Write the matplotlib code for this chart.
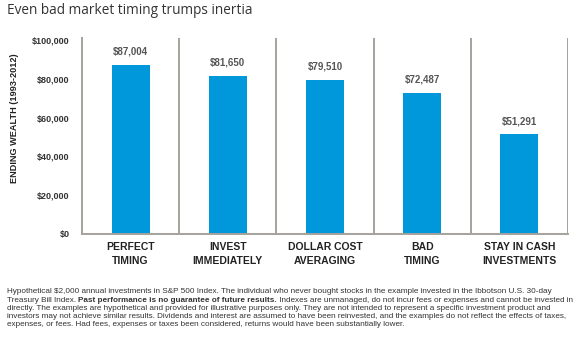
import matplotlib
matplotlib.use("Agg")
import matplotlib.pyplot as plt
import numpy as np

categories = ["PERFECT\nTIMING", "INVEST\nIMMEDIATELY", "DOLLAR COST\nAVERAGING",
              "BAD\nTIMING", "STAY IN CASH\nINVESTMENTS"]
values = [87004, 81650, 79510, 72487, 51291]
yticks = [0, 20000, 40000, 60000, 80000, 100000]
title = "Even bad market timing trumps inertia"
ylabel = "ENDING WEALTH (1993-2012)"

plt.rcParams['font.family'] = ['Liberation Sans', 'DejaVu Sans']

fig = plt.figure(figsize=(5.79, 3.37), dpi=100)
ax = fig.add_axes([82/579, 1 - 234/337, (568-82)/579, (234-38)/337])

x = np.arange(len(categories))
bar_color = '#0097DB'
ax.bar(x, values, width=0.39, color=bar_color, zorder=2)
ax.set_xlim(-0.5, len(categories) - 0.5)
ax.set_ylim(0, 101000)

gray = '#A5A19D'
for xs in x + 0.5:
    ax.axvline(xs, color=gray, lw=1.4, zorder=1)

for s in ['top', 'right']:
    ax.spines[s].set_visible(False)
for s in ['left', 'bottom']:
    ax.spines[s].set_color(gray)
    ax.spines[s].set_linewidth(1.4)

ax.set_yticks(yticks)
ax.set_yticklabels(["$" + format(v, ",") for v in yticks],
                   fontsize=6.5, fontweight='bold', color='#333333')
ax.tick_params(axis='y', length=0, pad=9)
ax.set_xticks(x)
ax.set_xticklabels(categories, fontsize=7.5, fontweight='bold', color='#222222',
                   linespacing=1.4)
ax.tick_params(axis='x', length=0, pad=6)

for xi, v in zip(x, values):
    ax.annotate("$" + format(v, ","), (xi, v), xytext=(0, 6), textcoords='offset points',
                ha='center', va='bottom', fontsize=7, fontweight='bold', color='#555555')

fig.text(15/579, 1 - 118/337, ylabel, rotation=90, ha='center', va='center',
         fontsize=6.6, fontweight='bold', color='#222222')

fig.text(7/579, 1 - 11/337, title, ha='left', va='center', fontsize=9.8,
         color='#333333', family=['Open Sans', 'DejaVu Sans'])

fn_size = 5.84
fn_color = '#333333'
lines = [
    "Hypothetical $2,000 annual investments in S&P 500 Index. The individual who never bought stocks in the example invested in the Ibbotson U.S. 30-day",
    None,
    "directly. The examples are hypothetical and provided for illustrative purposes only. They are not intended to represent a specific investment product and",
    "investors may not achieve similar results. Dividends and interest are assumed to have been reinvested, and the examples do not reflect the effects of taxes,",
    "expenses, or fees. Had fees, expenses or taxes been considered, returns would have been substantially lower.",
]
ys = [291.5, 300, 308.3, 316.7, 325]
for line, yy in zip(lines, ys):
    if line is not None:
        fig.text(7/579, 1 - yy/337, line, ha='left', va='center', fontsize=fn_size,
                 color=fn_color)
    else:
        t1 = fig.text(7/579, 1 - yy/337, "Treasury Bill Index. ", ha='left', va='center',
                      fontsize=fn_size, color=fn_color)
        a2 = plt.annotate("Past performance is no guarantee of future results.", xy=(1, 0),
                          xycoords=t1, ha='left', va='bottom', fontsize=fn_size,
                          color=fn_color, fontweight='bold', annotation_clip=False)
        plt.annotate(" Indexes are unmanaged, do not incur fees or expenses and cannot be invested in",
                     xy=(1, 0), xycoords=a2, ha='left', va='bottom', fontsize=fn_size,
                     color=fn_color, annotation_clip=False)

fig.savefig("out.png", dpi=100)
